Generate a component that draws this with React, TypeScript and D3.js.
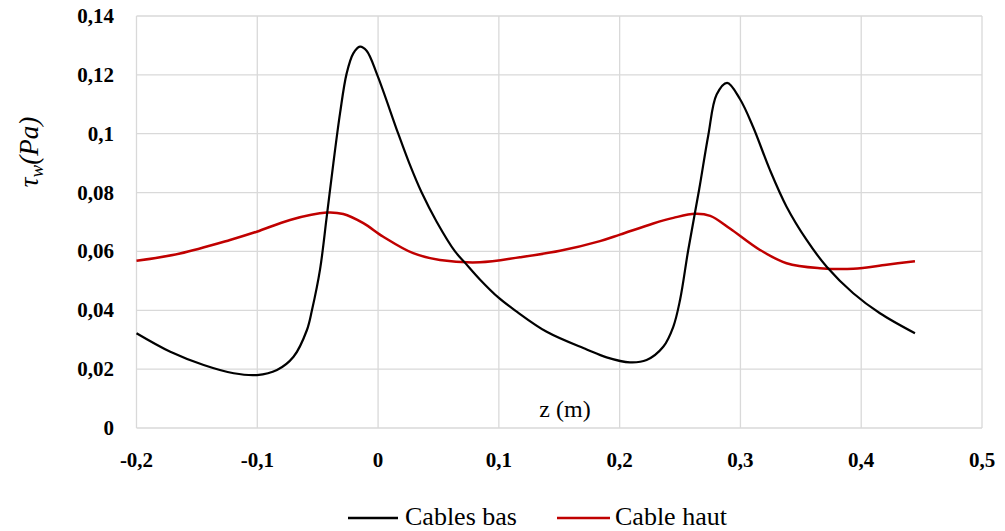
import React from "react";
import * as d3 from "d3";

const xTicks = [-0.2, -0.1, 0, 0.1, 0.2, 0.3, 0.4, 0.5];
const yTicks = [0, 0.02, 0.04, 0.06, 0.08, 0.1, 0.12, 0.14];

const zBas = [-0.2, -0.172, -0.1444, -0.1195, -0.1002, -0.0837, -0.07, -0.0589, -0.0547, -0.048, -0.0425, -0.037, -0.0315, -0.026, -0.0205, -0.015, -0.0095, -0.0007, 0.0167, 0.0258, 0.0361, 0.0485, 0.0637, 0.0719, 0.0843, 0.1, 0.1133, 0.1396, 0.1727, 0.1892, 0.2085, 0.2223, 0.2361, 0.2444, 0.25, 0.2568, 0.2659, 0.2734, 0.2803, 0.289, 0.2996, 0.3106, 0.3244, 0.3382, 0.3548, 0.3714, 0.3934, 0.4155, 0.4445];
const tauBas = [0.0322, 0.0259, 0.0214, 0.0186, 0.018, 0.0197, 0.0242, 0.0333, 0.0401, 0.054, 0.0718, 0.09, 0.1069, 0.1205, 0.1273, 0.1296, 0.1282, 0.12, 0.1, 0.09, 0.08, 0.0701, 0.06, 0.0562, 0.0505, 0.0442, 0.04, 0.0327, 0.0267, 0.024, 0.0223, 0.0231, 0.0276, 0.0344, 0.0435, 0.0605, 0.0812, 0.0995, 0.1133, 0.1173, 0.1118, 0.1022, 0.0877, 0.0752, 0.0639, 0.0548, 0.0458, 0.039, 0.0322];

const zHaut = [-0.2, -0.164, -0.1226, -0.1005, -0.0729, -0.0425, -0.0288, -0.0122, 0.0043, 0.0291, 0.0512, 0.0843, 0.1174, 0.1506, 0.1837, 0.2002, 0.2278, 0.2445, 0.2625, 0.275, 0.2913, 0.3162, 0.3382, 0.3658, 0.3934, 0.421, 0.4445];
const tauHaut = [0.0568, 0.0593, 0.0639, 0.0667, 0.0707, 0.0732, 0.0727, 0.0696, 0.065, 0.0594, 0.0571, 0.0563, 0.058, 0.0602, 0.0635, 0.0657, 0.0695, 0.0714, 0.0728, 0.0721, 0.0678, 0.0605, 0.056, 0.0543, 0.0541, 0.0555, 0.0567];

const fmt = (v: number) => {
  const s = (Math.round(v * 1000) / 1000).toString();
  return s.replace(".", ",");
};

export default function App() {
  const x = d3.scaleLinear().domain([-0.2, 0.5]).range([136.5, 982]);
  const y = d3.scaleLinear().domain([0, 0.14]).range([428, 16]);
  const line = d3
    .line<[number, number]>()
    .x((d) => x(d[0]))
    .y((d) => y(d[1]))
    .curve(d3.curveCatmullRom.alpha(0.5));
  const bas = zBas.map((z, i) => [z, tauBas[i]] as [number, number]);
  const haut = zHaut.map((z, i) => [z, tauHaut[i]] as [number, number]);
  const font = "'Liberation Serif', serif";
  return (
    <svg width={1005} height={531} style={{ position: "absolute", left: 0, top: 0, background: "#fff" }} fontFamily={font}>
      <rect x={0} y={0} width={1005} height={531} fill="#fff" />
      {xTicks.map((t) => (
        <line key={"gx" + t} x1={x(t)} x2={x(t)} y1={y(0)} y2={y(0.14)} stroke="#d9d9d9" strokeWidth={1.3} />
      ))}
      {yTicks.map((t) => (
        <line key={"gy" + t} x1={x(-0.2)} x2={x(0.5)} y1={y(t)} y2={y(t)} stroke="#d9d9d9" strokeWidth={1.3} />
      ))}
      {yTicks.map((t) => (
        <text key={"ty" + t} x={114} y={y(t) + 7} textAnchor="end" fontSize={21} fontWeight="bold" fill="#000">
          {fmt(t)}
        </text>
      ))}
      {xTicks.map((t) => (
        <text key={"tx" + t} x={x(t)} y={467} textAnchor="middle" fontSize={21} fontWeight="bold" fill="#000">
          {t === 0 ? "0" : fmt(t)}
        </text>
      ))}
      <path d={line(haut) || ""} fill="none" stroke="#c00000" strokeWidth={2.5} />
      <path d={line(bas) || ""} fill="none" stroke="#000" strokeWidth={2.2} />
      <text x={565} y={417} textAnchor="middle" fontSize={24} fill="#000">z (m)</text>
      <text transform="translate(38,152) rotate(-90)" textAnchor="middle" fontSize={27} fontStyle="italic" fill="#000">
        τ<tspan fontSize={19} dy={5}>w</tspan><tspan dy={-5}>(Pa)</tspan>
      </text>
      <line x1={348} x2={398} y1={518} y2={518} stroke="#000" strokeWidth={2.5} />
      <text x={405} y={525} fontSize={26} fill="#000">Cables bas</text>
      <line x1={557} x2={610} y1={518} y2={518} stroke="#c00000" strokeWidth={2.5} />
      <text x={615} y={525} fontSize={26} fill="#000">Cable haut</text>
    </svg>
  );
}
